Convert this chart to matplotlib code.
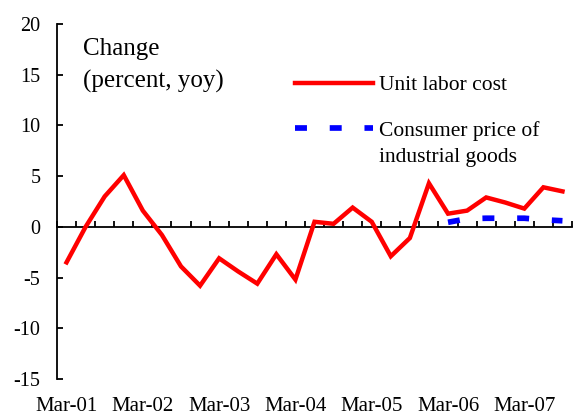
import matplotlib
matplotlib.use("Agg")
import matplotlib.pyplot as plt
import numpy as np

# ---- data ----
quarters = ["Mar-01", "Jun-01", "Sep-01", "Dec-01",
            "Mar-02", "Jun-02", "Sep-02", "Dec-02",
            "Mar-03", "Jun-03", "Sep-03", "Dec-03",
            "Mar-04", "Jun-04", "Sep-04", "Dec-04",
            "Mar-05", "Jun-05", "Sep-05", "Dec-05",
            "Mar-06", "Jun-06", "Sep-06", "Dec-06",
            "Mar-07", "Jun-07", "Sep-07"]
unit_labor_cost = [-3.5, 0.0, 3.0, 5.1, 1.6, -0.8, -3.9, -5.8, -3.1, -4.4,
                   -5.6, -2.7, -5.2, 0.5, 0.3, 1.9, 0.5, -2.9, -1.1, 4.3,
                   1.3, 1.6, 2.9, 2.4, 1.8, 3.9, 3.5]
cpi_quarters = ["Mar-06", "Jun-06", "Sep-06", "Dec-06", "Mar-07", "Jun-07", "Sep-07"]
cpi_industrial = [0.45, 0.8, 0.85, 0.85, 0.85, 0.7, 0.6]
label_quarters = ["Mar-01", "Mar-02", "Mar-03", "Mar-04", "Mar-05", "Mar-06", "Mar-07"]
yticks = [-15, -10, -5, 0, 5, 10, 15, 20]

plt.rcParams['font.family'] = ['Liberation Serif', 'DejaVu Serif']

W, H = 574, 416
fig = plt.figure(figsize=(W / 100, H / 100), dpi=100)
ax = fig.add_axes([57 / W, 1 - 379 / H, (572 - 57) / W, (379 - 24) / H])

xpos = np.arange(len(quarters))
idx = {q: i for i, q in enumerate(quarters)}
cpi_x = [idx[q] for q in cpi_quarters]

ln1, = ax.plot(xpos, unit_labor_cost, color='#ff0000', lw=3.2,
               solid_joinstyle='miter', label='Unit labor cost', zorder=3)
ln2, = ax.plot(cpi_x, cpi_industrial, color='#0000ff', lw=4.1,
               dashes=(2.1, 4.0), dash_capstyle='butt',
               label='Consumer price of', zorder=3)

ax.set_xlim(-0.5, len(quarters) - 0.5)
ax.set_ylim(-15, 20)

for s in ['top', 'right']:
    ax.spines[s].set_visible(False)
ax.spines['left'].set_linewidth(1.3)
ax.spines['bottom'].set_position(('data', 0))
ax.spines['bottom'].set_linewidth(1.3)

ax.set_yticks(yticks)
ax.set_yticklabels([str(v) for v in yticks])
ax.tick_params(axis='y', direction='in', length=4, width=1.3, pad=12, labelsize=14.5)
ax.set_xticks(np.arange(-0.5, len(quarters), 1.0))
ax.set_xticklabels([])
ax.tick_params(axis='x', direction='in', length=4, width=1.3)

trans = matplotlib.transforms.blended_transform_factory(ax.transData, ax.transAxes)
for q in label_quarters:
    ax.text(idx[q], (379 - 411) / 355, q, transform=trans, ha='center',
            va='baseline', fontsize=15)

fig.text(83 / W, 1 - 55 / H, "Change", fontsize=18, va='baseline', ha='left')
fig.text(83 / W, 1 - 88 / H, "(percent, yoy)", fontsize=18, va='baseline', ha='left')

leg = ax.legend(handles=[ln1, ln2], loc='upper left',
                bbox_to_anchor=(295 / W, 1 - 75 / H), bbox_transform=fig.transFigure,
                frameon=False, fontsize=15.5, handlelength=3.63, handletextpad=0.28,
                labelspacing=1.2, borderpad=0, borderaxespad=0)
fig.text(379 / W, 1 - 162 / H, "industrial goods", fontsize=15.5, va='baseline', ha='left')

fig.savefig("out.png", dpi=100)
